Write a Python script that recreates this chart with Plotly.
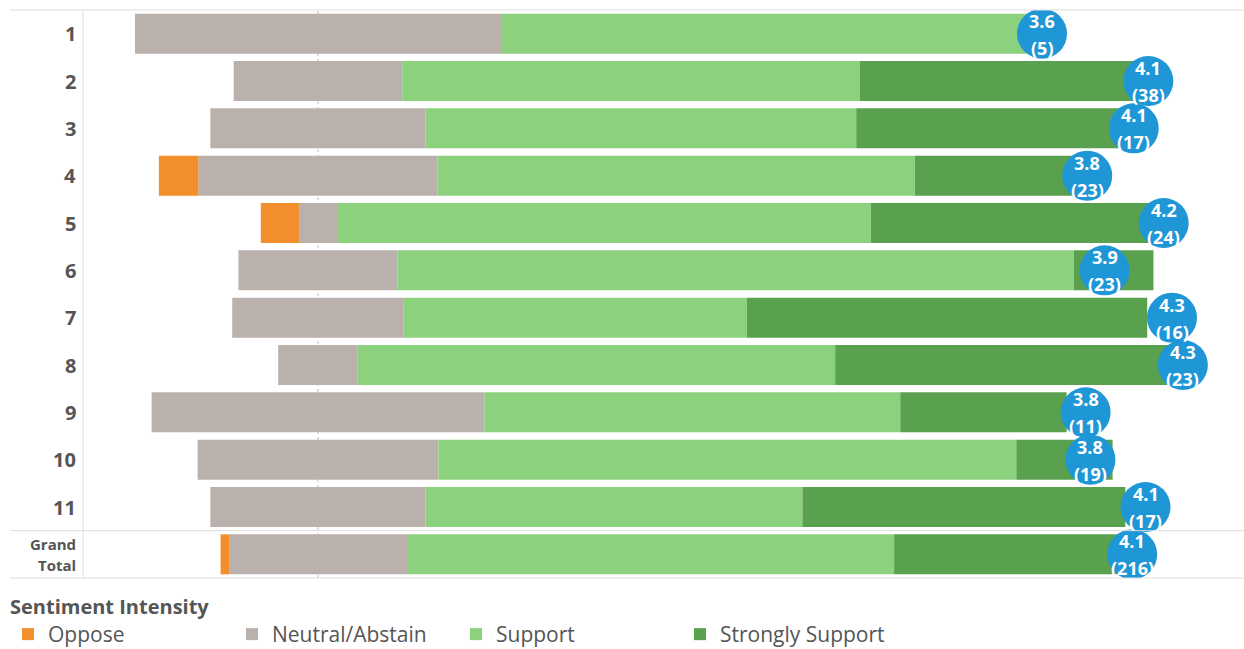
import plotly.graph_objects as go
from decimal import Decimal, ROUND_HALF_UP

rows = ["1", "2", "3", "4", "5", "6", "7", "8", "9", "10", "11"]
total_label = ["Grand", "Total"]
oppose = [0, 0, 0, 1, 1, 0, 0, 0, 0, 0, 0]
neutral = [2, 7, 4, 6, 1, 4, 3, 2, 4, 5, 4]
support = [3, 19, 8, 12, 14, 17, 6, 12, 5, 12, 7]
strong = [0, 12, 5, 4, 8, 2, 7, 9, 2, 2, 6]
scores = [2, 3, 4, 5]
cat_names = ["Oppose", "Neutral/Abstain", "Support", "Strongly Support"]
colors = ["#F28E2B", "#BAB0AC", "#8CD17D", "#59A14F"]

opp = oppose + [sum(oppose)]
neu = neutral + [sum(neutral)]
sup = support + [sum(support)]
sts = strong + [sum(strong)]

n = [a + b + c + d for a, b, c, d in zip(opp, neu, sup, sts)]
pct = lambda v: [100.0 * x / t for x, t in zip(v, n)]
p_opp, p_neu, p_sup, p_sts = pct(opp), pct(neu), pct(sup), pct(sts)
num = [(scores[0] * a + scores[1] * b + scores[2] * c + scores[3] * d)
       for a, b, c, d in zip(opp, neu, sup, sts)]
avg = [s / t for s, t in zip(num, n)]
avg_txt = [str((Decimal(s) / Decimal(t)).quantize(Decimal("0.1"), rounding=ROUND_HALF_UP))
           for s, t in zip(num, n)]

ypos = list(range(len(rows) + 1))
base_neu = [-v / 2 for v in p_neu]
base_opp = [b - o for b, o in zip(base_neu, p_opp)]
base_sup = [v / 2 for v in p_neu]
base_sts = [b + s for b, s in zip(base_sup, p_sup)]

W, H = 1244, 649
L, R, T, B = 83, 0, 10, 71
PW = W - L - R
FONT = "Open Sans"
GREY = "#555555"

fig = go.Figure()
for name, vals, base, col in zip(cat_names, [p_opp, p_neu, p_sup, p_sts],
                                 [base_opp, base_neu, base_sup, base_sts], colors):
    fig.add_trace(go.Bar(y=ypos, x=vals, base=base, orientation="h", name=name,
                         marker=dict(color=col, line=dict(width=0)),
                         hoverinfo="skip"))

fig.add_trace(go.Scatter(x=avg, y=ypos, xaxis="x2", mode="markers",
                         marker=dict(size=50, color="#1F96D6", line=dict(width=0)),
                         showlegend=False, hoverinfo="skip"))

ann = []
for i, (a, at, t) in enumerate(zip(avg, avg_txt, n)):
    ann.append(dict(x=a, y=i, xref="x2", yref="y", text=f"<b>{at}</b>", showarrow=False,
                    yshift=13, borderpad=0, font=dict(family=FONT, size=18, color="white")))
    ann.append(dict(x=a, y=i, xref="x2", yref="y", text=f"<b>({t})</b>", showarrow=False,
                    yshift=-14, borderpad=0, font=dict(family=FONT, size=18, color="white")))
lab_x = (78 - L) / PW
for i, lab in enumerate(rows):
    ann.append(dict(x=lab_x, y=i, xref="paper", yref="y", xanchor="right",
                    text=f"<b>{lab}</b>", showarrow=False,
                    font=dict(family=FONT, size=20, color=GREY)))
for k, part in enumerate(total_label):
    ann.append(dict(x=lab_x, y=len(rows), xref="paper", yref="y", xanchor="right",
                    text=f"<b>{part}</b>", showarrow=False, yshift=10 - 21 * k,
                    font=dict(family=FONT, size=15, color=GREY)))

lx0 = (10 - L) / PW
line_col = "#DDDDDD"
shapes = [
    dict(type="line", xref="x", yref="paper", x0=0, x1=0, y0=0, y1=1, layer="below",
         line=dict(color="#BBBBBB", width=1, dash="dot")),
    dict(type="line", xref="paper", yref="paper", x0=lx0, x1=1, y0=1, y1=1,
         line=dict(color=line_col, width=1)),
    dict(type="line", xref="paper", yref="paper", x0=lx0, x1=1, y0=0, y1=0,
         line=dict(color=line_col, width=1)),
    dict(type="line", xref="paper", yref="y", x0=lx0, x1=1, y0=len(rows) - 0.5, y1=len(rows) - 0.5,
         line=dict(color=line_col, width=1)),
    dict(type="line", xref="paper", yref="paper", x0=0, x1=0, y0=0, y1=1,
         line=dict(color=line_col, width=1)),
]

px_per_pct = 9.15
zero_px = 318
px_per_avg = 200
zero_avg_px = 322
x_range = [(L - zero_px) / px_per_pct, (W - R - zero_px) / px_per_pct]
x2_range = [(L - zero_avg_px) / px_per_avg, (W - R - zero_avg_px) / px_per_avg]

fig.update_layout(
    width=W, height=H,
    margin=dict(l=L, r=R, t=T, b=B, autoexpand=False),
    paper_bgcolor="white", plot_bgcolor="white",
    barmode="overlay", bargap=0.155,
    xaxis=dict(range=x_range, visible=False, fixedrange=True),
    xaxis2=dict(range=x2_range, overlaying="x", visible=False, fixedrange=True),
    yaxis=dict(range=[len(rows) + 0.5, -0.5], visible=False, fixedrange=True),
    shapes=shapes,
    annotations=ann,
    showlegend=True,
    legend=dict(orientation="h", xref="container", yref="container",
                x=8 / W, xanchor="left", y=(H - 588) / H, yanchor="top",
                entrywidth=179, entrywidthmode="pixels",
                title=dict(text="<b>Sentiment Intensity</b>", side="top",
                           font=dict(family=FONT, size=20, color=GREY)),
                font=dict(family=FONT, size=21, color=GREY),
                traceorder="normal", bgcolor="rgba(0,0,0,0)"),
    font=dict(family=FONT, color=GREY),
)

fig.write_html("out.html")
